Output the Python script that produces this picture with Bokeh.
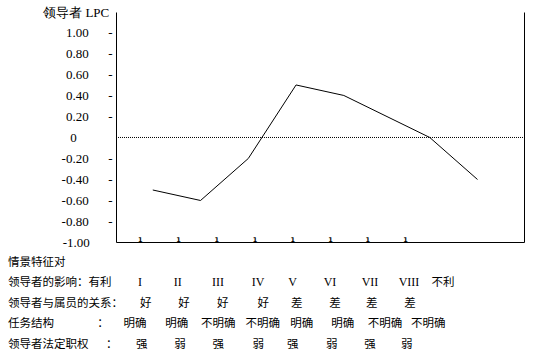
from bokeh.plotting import figure
from bokeh.layouts import column
from bokeh.models import Range1d, LinearAxis, FixedTicker, Div
from bokeh.core.properties import value
from bokeh.embed import file_html
from bokeh.resources import INLINE

# ---------------- data ----------------
situation_x = [1, 2, 3, 4, 5, 6.8, 7.8]
lpc_values = [-0.50, -0.60, -0.20, 0.50, 0.40, 0.00, -0.40]
y_ticks = [1.0, 0.8, 0.6, 0.4, 0.2, 0.0, -0.2, -0.4, -0.6, -0.8, -1.0]
marker_x = [0.74, 1.54, 2.34, 3.14, 3.93, 4.72, 5.50, 6.29]
marker_text = ["1", "1", "1", "1", "1", "1", "1", "1"]
octants = ["I", "II", "III", "IV", "V", "VI", "VII", "VIII"]
relations = ["好", "好", "好", "好", "差", "差", "差", "差"]
structure = ["明确", "明确", "不明确", "不明确", "明确", "明确", "不明确", "不明确"]
power = ["强", "弱", "强", "弱", "强", "弱", "强", "弱"]
row_titles = ["情景特征对", "领导者的影响：有利", "领导者与属员的关系：", "任务结构", "领导者法定职权"]
axis_title = "领导者 LPC"
unfavorable = "不利"
colon = "："
zero_level = 0.0

# ---------------- layout ----------------
W = 546
H1 = 250
H2 = 362 - H1
ML, MR, MT, MB = 116, 22, 12, 8
X0, X1 = 0.24, 8.784
Y0, Y1 = -1.0, 1.19
FW = W - ML - MR

CJK = "Noto Sans CJK SC"
SERIF = "Liberation Serif"
NB = "\u00a0"

p = figure(width=W, height=H1, output_backend="svg", toolbar_location=None,
           x_range=Range1d(X0, X1), y_range=Range1d(Y0, Y1),
           min_border_left=ML, min_border_right=MR, min_border_top=MT, min_border_bottom=MB)
p.outline_line_color = None
p.grid.visible = False
p.background_fill_color = "white"
p.border_fill_color = "white"

# y axis: tick labels carry the small dash marks, top tick carries axis title
ya = p.yaxis[0]
ya.ticker = FixedTicker(ticks=y_ticks + [Y1])
ya.major_tick_line_color = None
ya.minor_tick_line_color = None
ya.major_tick_out = 0
ya.major_tick_in = 0
ya.axis_line_color = "black"
ya.axis_line_width = 1
ya.major_label_standoff = 4
ya.major_label_text_font = SERIF
ya.major_label_text_font_size = "13px"
ya.major_label_text_color = "black"
overrides = {}
for t in y_ticks:
    if t == 0:
        overrides[t] = "0" + NB * 11
    elif t == -1.0:
        overrides[t] = f"{t:.2f}" + NB * 7
    else:
        overrides[t] = f"{t:.2f}" + NB * 6 + "-"
overrides[Y1] = axis_title + NB
ya.major_label_overrides = overrides

xa = p.xaxis[0]
xa.ticker = FixedTicker(ticks=[])
xa.major_tick_line_color = None
xa.minor_tick_line_color = None
xa.major_tick_out = 0
xa.major_label_standoff = 0
xa.axis_line_color = "black"

ra = LinearAxis(ticker=FixedTicker(ticks=[]), major_tick_line_color=None,
                minor_tick_line_color=None, major_tick_out=0, major_label_standoff=0,
                axis_line_color="black")
p.add_layout(ra, "right")

# zero reference line (dotted), starting just right of the y axis
dotted_start = X0 + 1.5 * (X1 - X0) / FW
p.segment(x0=[dotted_start], y0=[zero_level], x1=[X1], y1=[zero_level],
          line_color="black", line_width=1, line_dash="1 1")

# LPC line
p.line(situation_x, lpc_values, line_color="black", line_width=1)

# small "1" marks near the bottom of the plot
marker_y = -0.97
p.text(x=marker_x, y=[marker_y] * len(marker_x), text=marker_text,
       text_font=value("DejaVu Sans"), text_font_size="6.5px", text_font_style="bold",
       text_align="center", text_baseline="middle", text_color="black")

# ---------------- table of situation characteristics (HTML text) ----------------
row_y = [v - H1 for v in (261.7, 281.7, 302.7, 323, 344)]
oct_cx = [140, 177.7, 218, 258, 292.7, 330, 370, 409]
rel_cx = [145.7, 184, 222.7, 263.3, 296.7, 335, 371.7, 410]
str_cx = [135, 176.7, 218.3, 262.7, 301.7, 342.7, 385, 428.3]
pow_cx = [141.7, 180, 218.3, 258.3, 292.7, 331.7, 370, 406.7]

spans = []


def put(x, y, t, font=CJK, size="11.5px", center=True):
    tr = "translate(-50%,-50%)" if center else "translate(0,-50%)"
    spans.append(
        f'<span style="position:absolute;left:{x}px;top:{y}px;transform:{tr};'
        f"white-space:nowrap;line-height:1;font-family:'{font}';font-size:{size};"
        f'color:#000;">{t}</span>')


for t, yy in zip(row_titles, row_y):
    put(8, yy, t, center=False)
for t, cx in zip(octants, oct_cx):
    put(cx, row_y[1], t, font=SERIF, size="12px")
put(443, row_y[1], unfavorable)
for t, cx in zip(relations, rel_cx):
    put(cx, row_y[2], t)
put(103, row_y[3], colon)
for t, cx in zip(structure, str_cx):
    put(cx, row_y[3], t)
put(111.7, row_y[4], colon)
for t, cx in zip(power, pow_cx):
    put(cx, row_y[4], t)

html = (f'<div style="position:relative;width:{W}px;height:{H2}px;margin:0;padding:0;">'
        + "".join(spans) + "</div>")
table = Div(text=html, width=W, height=H2, margin=0)

layout = column(p, table, spacing=0)
open("out.html", "w").write(file_html(layout, INLINE))
